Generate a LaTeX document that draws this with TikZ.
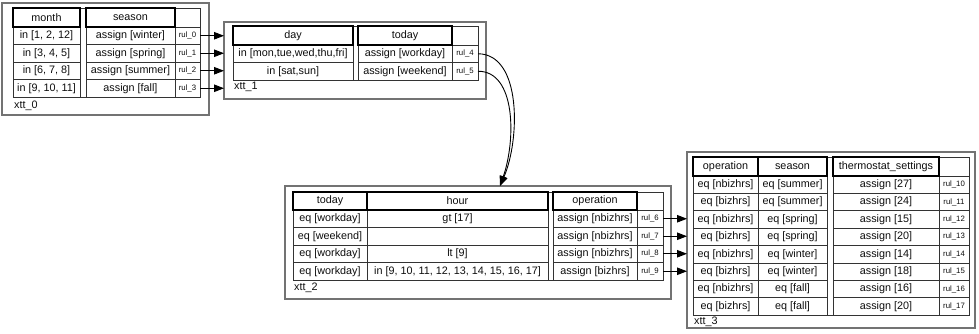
\documentclass[tikz,border=0pt]{standalone}
\usepackage{fontspec}
\setmainfont{Liberation Sans}
\usetikzlibrary{arrows.meta}
\newcommand\xcell[7]{\node[#1,anchor=north west,minimum width={(#5-#3)*1pt},minimum height={(#6-#4)*1pt}] (#2) at (#3,#4) {#7};}
\tikzset{
  cellbox/.style={draw=black!80, line width=0.8pt, inner sep=0pt, outer sep=0pt, font=\fontsize{10.8}{12}\selectfont, text=black!95},
  headbox/.style={cellbox, draw=black, line width=1.8pt},
  rulbox/.style={cellbox, font=\fontsize{7.8}{9}\selectfont},
  gapbox/.style={draw=black!80, line width=0.8pt, inner sep=0pt, outer sep=0pt},
  outerbox/.style={draw=black!55, line width=1.3pt, inner sep=0pt, outer sep=0pt},
  tlabel/.style={anchor=west, inner sep=0pt, font=\fontsize{10.8}{12}\selectfont, text=black!95},
  arr/.style={-{Triangle[length=10pt,width=7.5pt]}, line width=0.9pt, draw=black}
}
\begin{document}
\begin{tikzpicture}[x=1pt,y=-1pt]
\useasboundingbox (0,0) rectangle (979,333);
% ---------------- xtt_0
\xcell{outerbox}{b0}{2}{3}{209}{115}{}
\xcell{gapbox}{g0}{80}{8}{86}{97}{}
\xcell{cellbox}{t0a1}{13}{27}{80}{44.5}{in [1, 2, 12]}
\xcell{cellbox}{t0b1}{86}{27}{175}{44.5}{assign [winter]}
\xcell{rulbox}{r0}{175}{27}{200}{44.5}{rul\_0}
\xcell{cellbox}{t0a2}{13}{44.5}{80}{62}{in [3, 4, 5]}
\xcell{cellbox}{t0b2}{86}{44.5}{175}{62}{assign [spring]}
\xcell{rulbox}{r1}{175}{44.5}{200}{62}{rul\_1}
\xcell{cellbox}{t0a3}{13}{62}{80}{79.5}{in [6, 7, 8]}
\xcell{cellbox}{t0b3}{86}{62}{175}{79.5}{assign [summer]}
\xcell{rulbox}{r2}{175}{62}{200}{79.5}{rul\_2}
\xcell{cellbox}{t0a4}{13}{79.5}{80}{97}{in [9, 10, 11]}
\xcell{cellbox}{t0b4}{86}{79.5}{175}{97}{assign [fall]}
\xcell{rulbox}{r3}{175}{79.5}{200}{97}{rul\_3}
\xcell{cellbox}{t0h3}{175}{8}{200}{27}{}
\xcell{headbox}{t0h1}{13}{8}{80}{27}{month}
\xcell{headbox}{t0h2}{86}{8}{175}{27}{season}
\node[tlabel] (l0) at (14,106) {xtt\_0};
% ---------------- xtt_1
\xcell{outerbox}{b1}{224}{22}{486}{99}{}
\xcell{gapbox}{g1}{353}{26}{358}{80}{}
\xcell{cellbox}{t1a1}{233}{45}{353}{62.5}{in [mon,tue,wed,thu,fri]}
\xcell{cellbox}{t1b1}{358}{45}{452}{62.5}{assign [workday]}
\xcell{rulbox}{r4}{452}{45}{478}{62.5}{rul\_4}
\xcell{cellbox}{t1a2}{233}{62.5}{353}{80}{in [sat,sun]}
\xcell{cellbox}{t1b2}{358}{62.5}{452}{80}{assign [weekend]}
\xcell{rulbox}{r5}{452}{62.5}{478}{80}{rul\_5}
\xcell{cellbox}{t1h3}{452}{26}{478}{45}{}
\xcell{headbox}{t1h1}{233}{26}{353}{45}{day}
\xcell{headbox}{t1h2}{358}{26}{452}{45}{today}
\node[tlabel] (l1) at (234,87) {xtt\_1};
% ---------------- xtt_2
\xcell{outerbox}{b2}{285}{186}{671}{299}{}
\xcell{gapbox}{g2}{548}{192}{553}{280}{}
\xcell{cellbox}{t2a1}{293}{210}{367}{227.5}{eq [workday]}
\xcell{cellbox}{t2b1}{367}{210}{548}{227.5}{gt [17]}
\xcell{cellbox}{t2c1}{553}{210}{637}{227.5}{assign [nbizhrs]}
\xcell{rulbox}{r6}{637}{210}{663}{227.5}{rul\_6}
\xcell{cellbox}{t2a2}{293}{227.5}{367}{245}{eq [weekend]}
\xcell{cellbox}{t2b2}{367}{227.5}{548}{245}{}
\xcell{cellbox}{t2c2}{553}{227.5}{637}{245}{assign [nbizhrs]}
\xcell{rulbox}{r7}{637}{227.5}{663}{245}{rul\_7}
\xcell{cellbox}{t2a3}{293}{245}{367}{262.5}{eq [workday]}
\xcell{cellbox}{t2b3}{367}{245}{548}{262.5}{lt [9]}
\xcell{cellbox}{t2c3}{553}{245}{637}{262.5}{assign [nbizhrs]}
\xcell{rulbox}{r8}{637}{245}{663}{262.5}{rul\_8}
\xcell{cellbox}{t2a4}{293}{262.5}{367}{280}{eq [workday]}
\xcell{cellbox}{t2b4}{367}{262.5}{548}{280}{in [9, 10, 11, 12, 13, 14, 15, 16, 17]}
\xcell{cellbox}{t2c4}{553}{262.5}{637}{280}{assign [bizhrs]}
\xcell{rulbox}{r9}{637}{262.5}{663}{280}{rul\_9}
\xcell{cellbox}{t2h4}{637}{192}{663}{210}{}
\xcell{headbox}{t2h1}{293}{192}{367}{210}{today}
\xcell{headbox}{t2h2}{367}{192}{548}{210}{hour}
\xcell{headbox}{t2h3}{553}{192}{637}{210}{operation}
\node[tlabel] (l2) at (294,288) {xtt\_2};
% ---------------- xtt_3
\xcell{outerbox}{b3}{687}{152}{975}{328}{}
\xcell{gapbox}{g3}{827}{157}{833}{315.2}{}
\xcell{cellbox}{t3a1}{693}{176}{758}{193.4}{eq [nbizhrs]}
\xcell{cellbox}{t3b1}{758}{176}{827}{193.4}{eq [summer]}
\xcell{cellbox}{t3c1}{833}{176}{939}{193.4}{assign [27]}
\xcell{rulbox}{r10}{939}{176}{969}{193.4}{rul\_10}
\xcell{cellbox}{t3a2}{693}{193.4}{758}{210.8}{eq [bizhrs]}
\xcell{cellbox}{t3b2}{758}{193.4}{827}{210.8}{eq [summer]}
\xcell{cellbox}{t3c2}{833}{193.4}{939}{210.8}{assign [24]}
\xcell{rulbox}{r11}{939}{193.4}{969}{210.8}{rul\_11}
\xcell{cellbox}{t3a3}{693}{210.8}{758}{228.2}{eq [nbizhrs]}
\xcell{cellbox}{t3b3}{758}{210.8}{827}{228.2}{eq [spring]}
\xcell{cellbox}{t3c3}{833}{210.8}{939}{228.2}{assign [15]}
\xcell{rulbox}{r12}{939}{210.8}{969}{228.2}{rul\_12}
\xcell{cellbox}{t3a4}{693}{228.2}{758}{245.6}{eq [bizhrs]}
\xcell{cellbox}{t3b4}{758}{228.2}{827}{245.6}{eq [spring]}
\xcell{cellbox}{t3c4}{833}{228.2}{939}{245.6}{assign [20]}
\xcell{rulbox}{r13}{939}{228.2}{969}{245.6}{rul\_13}
\xcell{cellbox}{t3a5}{693}{245.6}{758}{263}{eq [nbizhrs]}
\xcell{cellbox}{t3b5}{758}{245.6}{827}{263}{eq [winter]}
\xcell{cellbox}{t3c5}{833}{245.6}{939}{263}{assign [14]}
\xcell{rulbox}{r14}{939}{245.6}{969}{263}{rul\_14}
\xcell{cellbox}{t3a6}{693}{263}{758}{280.4}{eq [bizhrs]}
\xcell{cellbox}{t3b6}{758}{263}{827}{280.4}{eq [winter]}
\xcell{cellbox}{t3c6}{833}{263}{939}{280.4}{assign [18]}
\xcell{rulbox}{r15}{939}{263}{969}{280.4}{rul\_15}
\xcell{cellbox}{t3a7}{693}{280.4}{758}{297.8}{eq [nbizhrs]}
\xcell{cellbox}{t3b7}{758}{280.4}{827}{297.8}{eq [fall]}
\xcell{cellbox}{t3c7}{833}{280.4}{939}{297.8}{assign [16]}
\xcell{rulbox}{r16}{939}{280.4}{969}{297.8}{rul\_16}
\xcell{cellbox}{t3a8}{693}{297.8}{758}{315.2}{eq [bizhrs]}
\xcell{cellbox}{t3b8}{758}{297.8}{827}{315.2}{eq [fall]}
\xcell{cellbox}{t3c8}{833}{297.8}{939}{315.2}{assign [20]}
\xcell{rulbox}{r17}{939}{297.8}{969}{315.2}{rul\_17}
\xcell{cellbox}{t3h4}{939}{157}{969}{176}{}
\xcell{headbox}{t3h1}{693}{157}{758}{176}{operation}
\xcell{headbox}{t3h2}{758}{157}{827}{176}{season}
\xcell{headbox}{t3h3}{833}{157}{939}{176}{thermostat\_settings}
\node[tlabel] (l3) at (694,322) {xtt\_3};
% ---------------- connectors
\foreach \r in {r0,r1,r2,r3} {\draw[arr] (\r.east) -- (\r.east -| b1.west);}
\foreach \r in {r6,r7,r8,r9} {\draw[arr] (\r.east) -- (\r.east -| b3.west);}
\coordinate (in2) at (500,186);
\draw[arr] (r4.east) .. controls (522,54) and (520,140) .. (in2);
\draw[arr] (r5.east) .. controls (516,71) and (516,140) .. (in2);
\end{tikzpicture}
\end{document}
